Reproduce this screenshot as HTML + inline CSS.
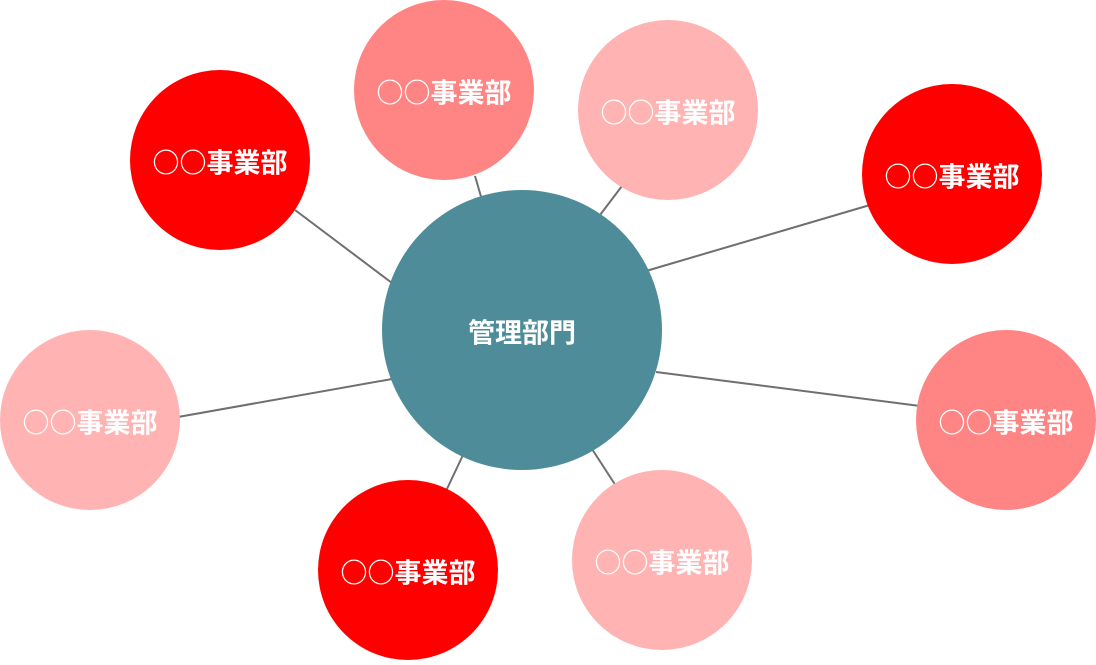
<!DOCTYPE html>
<html><head><meta charset="utf-8"><style>
html,body{margin:0;padding:0;background:#fff;}
svg text{font-family:"Noto Sans CJK JP","Liberation Sans",sans-serif;font-weight:bold;fill:#fff;text-anchor:middle;dominant-baseline:central;}
</style></head><body>
<svg width="1096" height="660" viewBox="0 0 1096 660" xmlns="http://www.w3.org/2000/svg">
<g stroke="#6f6f6f" stroke-width="2">
<line x1="295" y1="210" x2="392" y2="283"/>
<line x1="475" y1="176" x2="482" y2="200"/>
<line x1="622" y1="186" x2="600" y2="215"/>
<line x1="870" y1="205" x2="646" y2="271"/>
<line x1="656" y1="372" x2="920" y2="406"/>
<line x1="592" y1="449" x2="616" y2="486"/>
<line x1="463" y1="455" x2="446" y2="491"/>
<line x1="178" y1="417" x2="392" y2="379"/>
</g>
<circle cx="522" cy="330" r="140" fill="#4E8C9A"/>
<text x="522" y="331" font-size="27">管理部門</text>
<circle cx="220" cy="160" r="90" fill="#FF0000"/><text x="220" y="161" font-size="27">○○事業部</text>
<circle cx="444" cy="90" r="90" fill="#FF8585"/><text x="444" y="91" font-size="27">○○事業部</text>
<circle cx="668" cy="110" r="90" fill="#FFB3B3"/><text x="668" y="111" font-size="27">○○事業部</text>
<circle cx="952" cy="174" r="90" fill="#FF0000"/><text x="952" y="175" font-size="27">○○事業部</text>
<circle cx="1006" cy="420" r="90" fill="#FF8585"/><text x="1006" y="421" font-size="27">○○事業部</text>
<circle cx="662" cy="560" r="90" fill="#FFB3B3"/><text x="662" y="561" font-size="27">○○事業部</text>
<circle cx="408" cy="570" r="90" fill="#FF0000"/><text x="408" y="571" font-size="27">○○事業部</text>
<circle cx="90" cy="420" r="90" fill="#FFB3B3"/><text x="90" y="421" font-size="27">○○事業部</text>
</svg>
</body></html>
